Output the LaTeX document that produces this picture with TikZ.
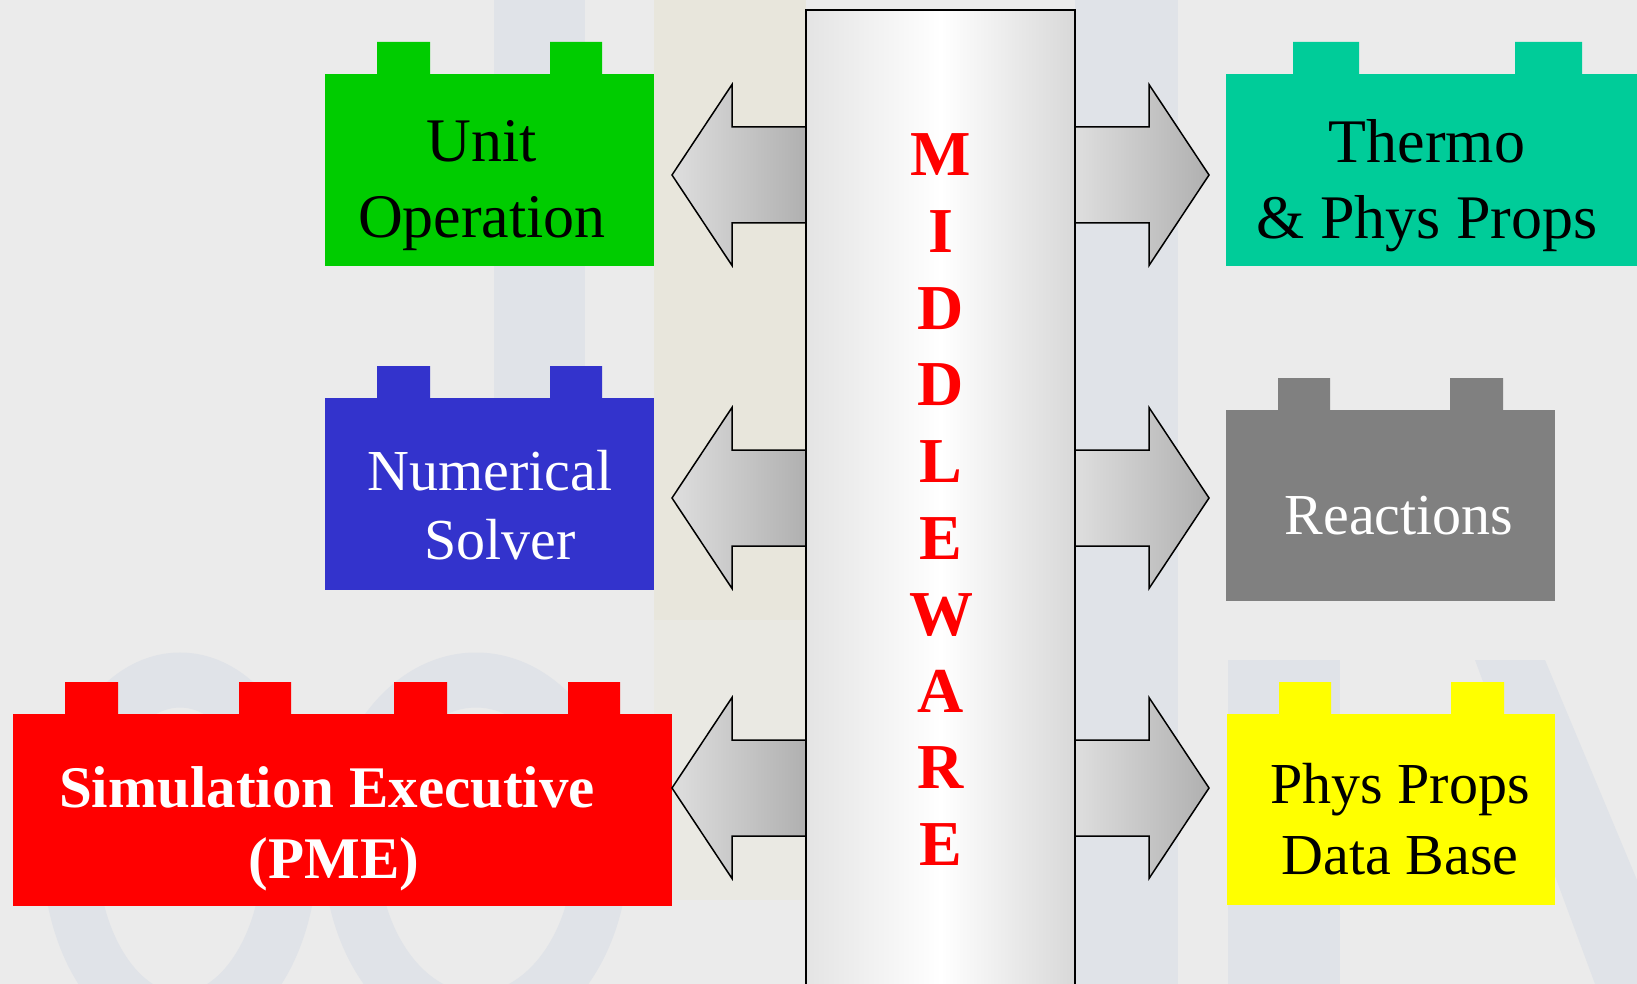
\documentclass[tikz,border=0pt]{standalone}
\usepackage{fontspec}
\setmainfont{Liberation Serif}
\definecolor{bgc}{HTML}{EBEBEB}
\definecolor{wm}{HTML}{E0E3E8}
\definecolor{beige}{HTML}{E8E6DC}
\definecolor{cgreen}{HTML}{00CC00}
\definecolor{cblue}{HTML}{3333CC}
\definecolor{cred}{HTML}{FF0000}
\definecolor{cteal}{HTML}{00CC99}
\definecolor{cgray}{HTML}{808080}
\definecolor{cyellow}{HTML}{FFFF00}
\definecolor{arrL}{HTML}{DEDEDE}
\definecolor{arrR}{HTML}{B0B0B0}
\definecolor{mwL}{HTML}{E4E4E4}
\definecolor{mwR}{HTML}{D8D8D8}
\begin{document}
\begin{tikzpicture}[x=1pt,y=-1pt,
  brick/.style={fill=#1,draw=none,inner sep=0pt,outer sep=0pt},
  lbl/.style={anchor=base,inner sep=0pt,font=\fontsize{62}{74}\selectfont},
  lbls/.style={anchor=base,inner sep=0pt,font=\fontsize{58}{70}\selectfont},
  lblb/.style={anchor=base,inner sep=0pt,font=\fontsize{59}{70}\selectfont\bfseries},
  mwl/.style={anchor=base,inner sep=0pt,text=red,font=\fontsize{64}{70}\selectfont\bfseries},
  blockarrow/.style={draw=black,line width=1.5pt,line join=miter,left color=arrL,right color=arrR}
]
\clip (0,0) rectangle (1637,984);
\fill[bgc] (0,0) rectangle (1637,984);
% faint watermark
\fill[wm] (494,0) rectangle (585,540);
\fill[beige] (654,0) rectangle (806,620);
\fill[beige!50!bgc] (654,620) rectangle (806,900);
\fill[wm] (1075,0) rectangle (1178,984);
\draw[wm,line width=55pt] (180,850) ellipse [x radius=110, y radius=170];
\draw[wm,line width=55pt] (476,850) ellipse [x radius=125, y radius=170];
\fill[wm] (1228,660) rectangle (1340,984);
\fill[wm] (1475,660) -- (1545,660) -- (1637,880) -- (1637,984) -- (1595,984) -- cycle;

% bricks
\node[brick=cgreen,minimum width=329pt,minimum height=192pt] (uo) at (489.5,170) {};
\fill[cgreen] (377,42) rectangle (430,75) (550,42) rectangle (602,75);
\node[lbl] (uo1) at (482,162) {Unit};
\node[lbl] (uo2) at (482,237) {Operation};

\node[brick=cblue,minimum width=329pt,minimum height=192pt] (ns) at (489.5,494) {};
\fill[cblue] (377,366) rectangle (430,399) (550,366) rectangle (602,399);
\node[lbls,text=white] (ns1) at (490,490) {Numerical};
\node[lbls,text=white] (ns2) at (500,559) {Solver};

\node[brick=cred,minimum width=659pt,minimum height=192pt] (se) at (342.5,810) {};
\fill[cred] (65,682) rectangle (118,715) (239,682) rectangle (291,715)
            (394,682) rectangle (447,715) (568,682) rectangle (620,715);
\node[lblb,text=white] (se1) at (327,807) {Simulation Executive};
\node[lblb,text=white] (se2) at (334,878) {(PME)};

\node[brick=cteal,minimum width=411pt,minimum height=192pt] (tp) at (1431.5,170) {};
\fill[cteal] (1293,42) rectangle (1359,75) (1515,42) rectangle (1582,75);
\node[lbl] (tp1) at (1427,163) {Thermo};
\node[lbl] (tp2) at (1427,239) {\& Phys Props};

\node[brick=cgray,minimum width=329pt,minimum height=191pt] (re) at (1390.5,505.5) {};
\fill[cgray] (1278,378) rectangle (1330,411) (1450,378) rectangle (1503,411);
\node[lbls,text=white] (re1) at (1399,534) {Reactions};

\node[brick=cyellow,minimum width=328pt,minimum height=191pt] (db) at (1391,809.5) {};
\fill[cyellow] (1279,682) rectangle (1331,715) (1451,682) rectangle (1504,715);
\node[lbls] (db1) at (1400,803) {Phys Props};
\node[lbls] (db2) at (1400,874) {Data Base};

% block arrows
\foreach \c in {175,498,788}{
  \draw[blockarrow] (806,\c-48) -- (732,\c-48) -- (732,\c-90.5) -- (672,\c)
     -- (732,\c+90.5) -- (732,\c+48) -- (806,\c+48);
  \draw[blockarrow] (1075,\c-48) -- (1149,\c-48) -- (1149,\c-90.5) -- (1209,\c)
     -- (1149,\c+90.5) -- (1149,\c+48) -- (1075,\c+48);
}

% middleware column
\node[draw=black,line width=1.8pt,left color=mwL,right color=mwR,middle color=white,
      minimum width=269pt,minimum height=1000pt,inner sep=0pt] (mw) at (940.5,510) {};
\foreach \l [count=\i from 0] in {M,I,D,D,L,E,W,A,R,E}
  \node[mwl] (mw\i) at (941,{176+76.6*\i}) {\l};
\end{tikzpicture}
\end{document}
